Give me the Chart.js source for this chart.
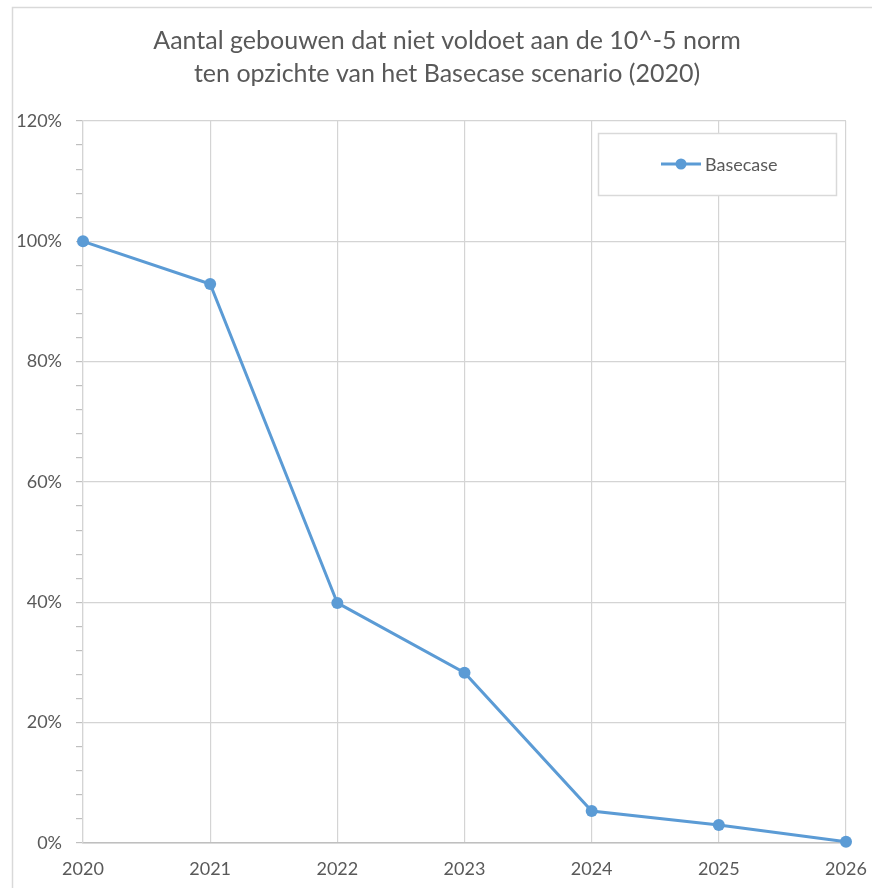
<!DOCTYPE html>
<html>
<head>
<meta charset="utf-8">
<script src="https://cdn.jsdelivr.net/npm/chart.js@4/dist/chart.umd.min.js"></script>
<style>
  html, body { margin: 0; padding: 0; background: #ffffff; }
  #wrap { width: 872px; height: 888px; position: relative; }
</style>
</head>
<body>
<div id="wrap"><canvas id="c" width="872" height="888"></canvas></div>
<script>
// ---- data ----
const years = ['2020', '2021', '2022', '2023', '2024', '2025', '2026'];
const basecase = [100, 92.9, 39.9, 28.3, 5.3, 3.0, 0.2];
const seriesName = 'Basecase';
const titleLines = ['Aantal gebouwen dat niet voldoet aan de 10^-5 norm', 'ten opzichte van het Basecase scenario (2020)'];
const yMin = 0, yMax = 120, yMajor = 20, yMinor = 4;

const FONT = 'Lato, "Open Sans", sans-serif';
const TEXT = '#595959';
const GRID = '#d4d4d4';
const AXIS = '#bfbfbf';
const LINE = '#5B9BD5';

const frame = {
  id: 'frame',
  beforeDraw(chart) {
    const ctx = chart.ctx;
    ctx.save();
    ctx.fillStyle = '#ffffff';
    ctx.fillRect(0, 0, chart.width, chart.height);
    ctx.strokeStyle = '#d9d9d9';
    ctx.lineWidth = 1.5;
    ctx.beginPath();
    ctx.moveTo(12.5, chart.height);
    ctx.lineTo(12.5, 7.5);
    ctx.lineTo(chart.width, 7.5);
    ctx.stroke();
    ctx.restore();
  }
};

const legendBox = {
  id: 'legendBox',
  afterDatasetsDraw(chart) {
    const ctx = chart.ctx;
    const ds = chart.data.datasets[0];
    ctx.save();
    ctx.fillStyle = '#ffffff';
    ctx.fillRect(598, 133, 239, 63);
    ctx.strokeStyle = '#d9d9d9';
    ctx.lineWidth = 1.5;
    ctx.strokeRect(598.5, 133.5, 238, 62);
    const cy = 164;
    ctx.strokeStyle = ds.borderColor;
    ctx.lineWidth = 3;
    ctx.beginPath();
    ctx.moveTo(661, cy);
    ctx.lineTo(701, cy);
    ctx.stroke();
    ctx.fillStyle = ds.borderColor;
    ctx.beginPath();
    ctx.arc(681, cy, 5.5, 0, Math.PI * 2);
    ctx.fill();
    ctx.fillStyle = TEXT;
    ctx.font = '18px ' + FONT;
    ctx.textBaseline = 'middle';
    ctx.textAlign = 'left';
    ctx.fillText(ds.label, 705, cy + 1);
    ctx.restore();
  }
};

function make() {
  new Chart(document.getElementById('c'), {
    type: 'line',
    data: {
      labels: years,
      datasets: [{
        label: seriesName,
        data: basecase,
        borderColor: LINE,
        backgroundColor: LINE,
        borderWidth: 3,
        pointRadius: 6,
        pointBorderWidth: 0,
        pointBackgroundColor: LINE,
        tension: 0,
        clip: false
      }]
    },
    options: {
      responsive: false,
      animation: false,
      layout: { padding: { left: 12, right: -10, top: 0, bottom: 0 } },
      plugins: {
        legend: { display: false },
        tooltip: { enabled: false },
        title: {
          display: true,
          text: titleLines,
          color: TEXT,
          font: { family: FONT, size: 25, weight: 'normal', lineHeight: 1.32 },
          padding: { top: 24, bottom: 31 }
        }
      },
      scales: {
        x: {
          type: 'category',
          offset: false,
          grid: { color: GRID, lineWidth: 1.2, drawTicks: false },
          border: { color: AXIS, width: 1.5 },
          ticks: { color: TEXT, font: { family: FONT, size: 18 }, padding: 15, maxRotation: 0, autoSkip: false },
          afterFit(scale) { scale.height = 45; scale.paddingRight = 26; }
        },
        y: {
          min: yMin,
          max: yMax,
          grid: {
            color: (c) => (c.tick && c.tick.value % yMajor === 0) ? GRID : 'rgba(0,0,0,0)',
            tickColor: AXIS,
            tickLength: 7,
            lineWidth: 1.2
          },
          border: { color: GRID, width: 1.2 },
          ticks: {
            stepSize: yMinor,
            autoSkip: false,
            color: TEXT,
            font: { family: FONT, size: 18 },
            padding: 14,
            callback: (v) => (v % yMajor === 0) ? v + '%' : ''
          },
          afterFit(scale) { scale.width = 71; }
        }
      }
    },
    plugins: [frame, legendBox]
  });
}

if (document.fonts && document.fonts.load) {
  Promise.all([document.fonts.load('18px Lato'), document.fonts.load('25px Lato')]).then(make, make);
} else {
  make();
}
</script>
</body>
</html>
